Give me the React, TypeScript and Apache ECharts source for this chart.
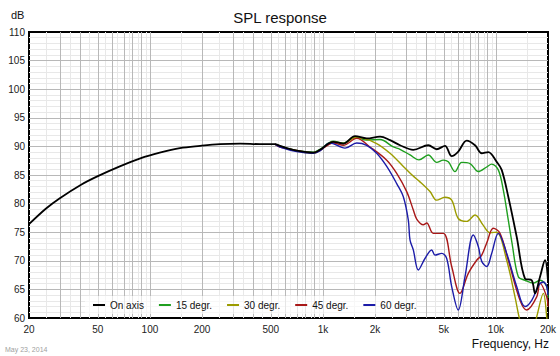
import React, { useEffect, useRef } from "react";
import * as echarts from "echarts";

const FONT = '"Liberation Sans", Arial, sans-serif';

// Axis tick labels
const X_LABELS = [20, 50, 100, 200, 500, 1000, 2000, 5000, 10000, 20000];
const Y_MIN = 60;
const Y_MAX = 110;
const Y_STEP = 5;

// On axis
const onAxisFreq = [20, 25, 30, 40, 50, 67, 88, 114, 149, 195, 254, 332, 433, 528, 565, 618, 705, 880, 962, 1148, 1312, 1533, 1791, 2138, 2442, 2790, 3330, 4066, 4546, 5076, 5551, 6058, 6778, 7568, 8278, 9034, 10102, 10798, 11790, 13184, 14724, 16102, 16826, 17986, 19218, 20000];
const onAxisDb = [76.4, 79.1, 80.9, 83.3, 84.8, 86.5, 87.9, 88.9, 89.7, 90.1, 90.4, 90.5, 90.4, 90.4, 90.1, 89.7, 89.25, 88.9, 89.4, 90.8, 90.5, 91.8, 91.4, 91.7, 91.1, 90.2, 89.4, 90.2, 89.5, 90.1, 88.3, 89.1, 91.0, 90.2, 88.8, 89.0, 87.3, 85.9, 81.2, 74.2, 66.9, 66.6, 64.3, 67.2, 70.1, 66.5];

// 15 degr.
const deg15Freq = [528, 565, 705, 880, 962, 1148, 1312, 1533, 1791, 2138, 2552, 2790, 3188, 3590, 4066, 4546, 4964, 5306, 5800, 6342, 7082, 7910, 8846, 9452, 10320, 11028, 11790, 12390, 13470, 14724, 16444, 17986, 19660, 20000];
const deg15Db = [90.4, 90.0, 89.3, 89.0, 89.5, 90.9, 90.6, 91.6, 91.1, 91.2, 89.9, 89.5, 88.5, 87.65, 88.5, 87.2, 87.6, 87.3, 85.6, 87.2, 87.0, 85.6, 86.4, 86.9, 85.9, 82.4, 77.1, 73.1, 67.2, 66.6, 66.1, 66.6, 65.5, 63.5];

// 30 degr.
const deg30Freq = [528, 565, 705, 880, 962, 1148, 1312, 1533, 1712, 2046, 2442, 2916, 3300, 3640, 4158, 4546, 5076, 5551, 6058, 6778, 7568, 8454, 9242, 10102, 11540, 12892, 13780, 15500, 17208, 18796, 19660, 20000];
const deg30Db = [90.4, 90.0, 89.2, 88.8, 89.3, 90.8, 90.5, 91.5, 91.4, 90.5, 88.8, 86.5, 84.9, 83.8, 82.1, 80.6, 81.1, 80.6, 77.4, 76.9, 78.0, 76.2, 74.9, 75.0, 70.1, 63.7, 59.5, 55, 60.2, 64.3, 60.2, 57];

// 45 degr.
const deg45Freq = [528, 565, 705, 880, 962, 1148, 1312, 1568, 1871, 2338, 2670, 3050, 3330, 3484, 3804, 3980, 4346, 4964, 5551, 6198, 6924, 7742, 8278, 8846, 9658, 10560, 11790, 13780, 15064, 17208, 17986, 19660, 20000];
const deg45Db = [90.4, 89.9, 89.3, 88.9, 89.3, 90.6, 90.2, 91.4, 89.9, 87.6, 85.3, 82.1, 78.9, 77.3, 76.3, 76.6, 74.8, 74.8, 69.0, 64.3, 67.8, 70.1, 71.0, 73.1, 75.7, 74.8, 70.1, 63.1, 61.4, 63.7, 66.1, 63.7, 62];

// 60 degr.
const deg60Freq = [528, 565, 705, 880, 962, 1099, 1342, 1568, 1791, 2046, 2338, 2670, 2916, 3116, 3188, 3330, 3560, 3890, 4254, 4446, 4858, 5194, 5551, 6058, 6624, 7402, 7910, 8278, 8846, 9452, 10320, 11540, 13184, 14724, 16102, 17742, 18796, 19660, 20000];
const deg60Db = [90.4, 89.9, 89.1, 88.8, 89.2, 90.6, 89.7, 90.6, 90.2, 88.8, 86.5, 83.5, 81.2, 77.1, 73.6, 71.9, 68.4, 70.4, 71.9, 71.0, 71.3, 70.4, 65.5, 61.4, 67.2, 74.5, 72.5, 69.9, 69.0, 71.3, 74.8, 71.3, 65.5, 62.0, 63.1, 65.8, 66.3, 65.5, 64];

const SERIES = [
  { name: "15 degr.", freq: deg15Freq, db: deg15Db, color: "#1f9f1f", width: 1.4 },
  { name: "30 degr.", freq: deg30Freq, db: deg30Db, color: "#9c9c00", width: 1.4 },
  { name: "45 degr.", freq: deg45Freq, db: deg45Db, color: "#a81818", width: 1.4 },
  { name: "60 degr.", freq: deg60Freq, db: deg60Db, color: "#1c1ca8", width: 1.4 },
  { name: "On axis", freq: onAxisFreq, db: onAxisDb, color: "#000000", width: 1.8 },
];
const LEGEND_ORDER = ["On axis", "15 degr.", "30 degr.", "45 degr.", "60 degr."];

const DECADES = [10, 100, 1000, 10000];
const F_MIN = 20;
const F_MAX = 20000;

function buildGrid() {
  const major: any[] = [];
  const minor: any[] = [];
  DECADES.forEach((d) => {
    for (let n = 1; n <= 9; n++) {
      const f = n * d;
      if (f > F_MIN && f < F_MAX) major.push({ xAxis: Math.log10(f) });
      const h = (n + 0.5) * d;
      if (h > F_MIN && h < F_MAX) minor.push({ xAxis: Math.log10(h) });
    }
  });
  for (let v = Y_MIN + 1; v < Y_MAX; v++) {
    if (v % Y_STEP === 0) major.push({ yAxis: v });
    else minor.push({ yAxis: v });
  }
  return { major, minor };
}

function fmtFreq(v: number) {
  const f = Math.round(Math.pow(10, v));
  return f >= 1000 ? f / 1000 + "k" : String(f);
}

export default function App() {
  const ref = useRef<HTMLDivElement>(null);
  useEffect(() => {
    if (!ref.current) return;
    const chart = echarts.init(ref.current, undefined, { renderer: "svg" });
    const { major, minor } = buildGrid();
    const gridSeries = (name: string, data: any[], color: string, z: number) => ({
      name,
      type: "line",
      data: [],
      silent: true,
      z,
      markLine: {
        silent: true,
        z,
        zlevel: 0,
        symbol: ["none", "none"],
        label: { show: false },
        animation: false,
        emphasis: { disabled: true },
        lineStyle: { color, width: 1, type: "solid" },
        data,
      },
    });
    const option: any = {
      animation: false,
      backgroundColor: "#ffffff",
      grid: {
        left: 29,
        right: 12,
        top: 32,
        bottom: 38,
        show: true,
        borderColor: "#000",
        borderWidth: 2,
        backgroundColor: "#fff",
      },
      xAxis: {
        type: "value",
        min: Math.log10(F_MIN),
        max: Math.log10(F_MAX),
        axisLine: { show: false },
        axisTick: { show: false },
        splitLine: { show: false },
        axisLabel: {
          customValues: X_LABELS.map((f) => Math.log10(f)),
          formatter: fmtFreq,
          fontSize: 10,
          color: "#222",
          fontFamily: FONT,
          margin: 6,
        },
      },
      yAxis: {
        type: "value",
        min: Y_MIN,
        max: Y_MAX,
        interval: Y_STEP,
        axisLine: { show: false },
        axisTick: { show: false },
        splitLine: { show: false },
        axisLabel: { fontSize: 10, color: "#222", fontFamily: FONT, margin: 4 },
      },
      legend: {
        data: LEGEND_ORDER,
        left: 85,
        top: 296,
        z: 20,
        padding: [4, 0, 4, 8],
        itemGap: 15,
        itemWidth: 12,
        itemHeight: 2,
        icon: "rect",
        selectedMode: false,
        backgroundColor: "rgba(255,255,255,0.65)",
        textStyle: { fontSize: 10, color: "#111", fontFamily: FONT, width: 44 },
      },
      series: [
        gridSeries("gridMinor", minor, "#e8e8e8", 0.5),
        gridSeries("gridMajor", major, "#b8b8b8", 0.6),
        ...SERIES.map((s, i) => ({
          name: s.name,
          type: "line",
          data: s.freq.map((f, j) => [Math.log10(f), s.db[j]]),
          showSymbol: false,
          symbol: "none",
          smooth: 0.35,
          clip: true,
          z: 5 + i,
          lineStyle: { color: s.color, width: s.width },
          itemStyle: { color: s.color },
          emphasis: { disabled: true },
        })),
      ],
      graphic: [
        {
          type: "text",
          x: 280,
          y: 17.5,
          z: 30,
          style: {
            text: "SPL response",
            fontSize: 15,
            fontFamily: FONT,
            fill: "#111",
            align: "center",
            textAlign: "center",
            verticalAlign: "middle",
            textVerticalAlign: "middle",
          },
        },
        {
          type: "text",
          x: 11,
          y: 15,
          z: 30,
          style: {
            text: "dB",
            fontSize: 11,
            fontFamily: FONT,
            fill: "#111",
            align: "left",
            textAlign: "left",
            verticalAlign: "middle",
            textVerticalAlign: "middle",
          },
        },
        {
          type: "text",
          x: 549,
          y: 343.5,
          z: 30,
          style: {
            text: "Frequency, Hz",
            fontSize: 12,
            fontFamily: FONT,
            fill: "#111",
            align: "right",
            textAlign: "right",
            verticalAlign: "middle",
            textVerticalAlign: "middle",
          },
        },
        {
          type: "text",
          x: 5,
          y: 349.5,
          z: 30,
          style: {
            text: "May 23, 2014",
            fontSize: 7,
            fontFamily: FONT,
            fill: "#a0a0a0",
            align: "left",
            textAlign: "left",
            verticalAlign: "middle",
            textVerticalAlign: "middle",
          },
        },
      ],
    };
    chart.setOption(option);
    return () => chart.dispose();
  }, []);
  return (
    <div
      ref={ref}
      style={{ position: "fixed", left: 0, top: 0, width: 560, height: 356 }}
    />
  );
}
